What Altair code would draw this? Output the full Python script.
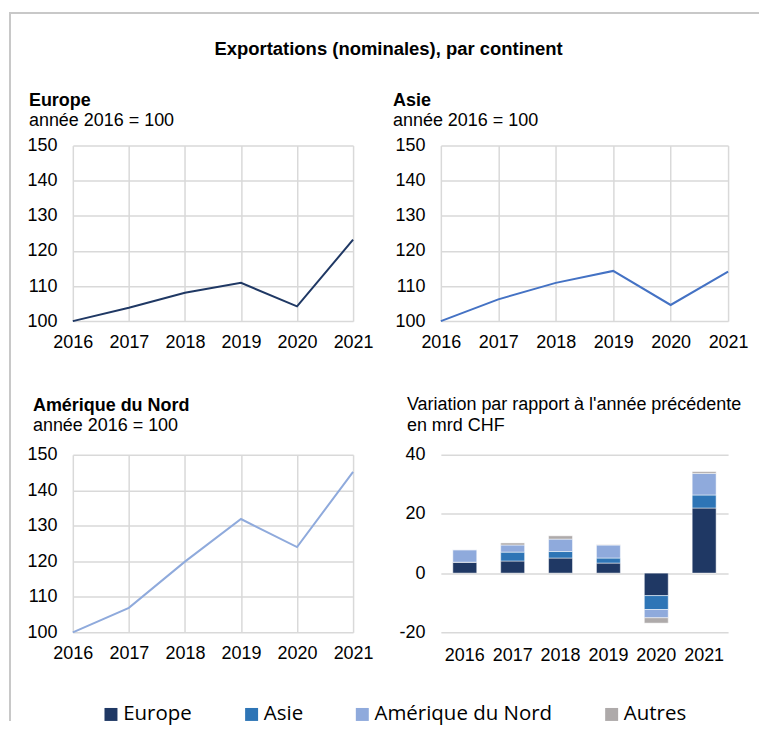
import altair as alt
import pandas as pd

# ---------------- data ----------------
years = [2016, 2017, 2018, 2019, 2020, 2021]
europe_idx = [100, 103.8, 108.1, 110.9, 104.2, 123.2]
asie_idx = [100, 106.2, 110.9, 114.3, 104.6, 114.1]
amn_idx = [100, 106.9, 119.9, 131.9, 124.0, 145.2]

continents = ["Europe", "Asie", "Amérique du Nord", "Autres"]
var_europe = [3.7, 4.1, 5.1, 3.4, -7.6, 22.0]
var_asie = [0.0, 3.0, 2.2, 1.7, -4.7, 4.4]
var_amn = [4.2, 2.4, 4.2, 4.4, -2.8, 7.3]
var_autres = [0.0, 0.7, 1.1, 0.1, -1.8, 0.6]

idx_ticks = [100, 110, 120, 130, 140, 150]
var_ticks = [-20, 0, 20, 40]

# ---------------- style ----------------
bar_colors = ["#1f3864", "#2e75b6", "#8faadc", "#aeaaaa"]
FONT = "Liberation Sans"
GRID = "#d9d9d9"
TXT = "#000000"
W1, W2 = 281, 288
H1, H2 = 176, 178


def line_panel(name, values, color, width, height, dx, dy, border=False):
    df = pd.DataFrame({"year": years, "value": values})
    line = alt.Chart(df).mark_line(color=color, strokeWidth=2).encode(
        x=alt.X("year:Q",
                scale=alt.Scale(domain=[2016, 2021], nice=False, zero=False),
                axis=alt.Axis(values=years, format="d", title=None, grid=True,
                              labelFlush=False, labelOverlap=False, labelPadding=12)),
        y=alt.Y("value:Q",
                scale=alt.Scale(domain=[100, 150], nice=False, zero=False),
                axis=alt.Axis(values=idx_ticks, title=None, grid=True, labelPadding=16)),
    )
    layers = [line]
    if border:
        frame = alt.Data(values=[{}])
        top = alt.Chart(frame).mark_rule(color="#c8c8c8", strokeWidth=2).encode(
            x=alt.value(-64), x2=alt.value(688), y=alt.value(-133))
        left = alt.Chart(frame).mark_rule(color="#c8c8c8", strokeWidth=2).encode(
            x=alt.value(-63), y=alt.value(-133), y2=alt.value(577))
        layers = [top, left, line]
    return alt.layer(*layers).properties(
        width=width, height=height,
        title=alt.TitleParams(name, subtitle="année 2016 = 100", anchor="start",
                              frame="group", dx=dx, dy=dy,
                              font=FONT, fontSize=18, fontWeight="bold", color=TXT,
                              subtitleFont=FONT, subtitleFontSize=18, subtitleColor=TXT,
                              subtitlePadding=2, offset=0),
    )


europe = line_panel("Europe", europe_idx, "#1f3864", W1, H1, -44, 118, border=True)
asie = line_panel("Asie", asie_idx, "#4472c4", W2, H1, -48, -7)
amn = line_panel("Amérique du Nord", amn_idx, "#8faadc", W1, H2, -40, -11)

rows = []
for i, y in enumerate(years):
    for k, (c, vals) in enumerate(zip(continents, [var_europe, var_asie, var_amn, var_autres])):
        rows.append({"year": y, "continent": c, "value": vals[i], "ord": k})
var_df = pd.DataFrame(rows)

bars = alt.Chart(var_df).mark_bar(stroke="white", strokeWidth=0.5).encode(
    x=alt.X("year:O",
            scale=alt.Scale(paddingInner=0.5, paddingOuter=0.25),
            axis=alt.Axis(title=None, labelAngle=0, grid=False, labelPadding=14)),
    y=alt.Y("value:Q", stack="zero",
            scale=alt.Scale(domain=[-20, 40], nice=False),
            axis=alt.Axis(values=var_ticks, title=None, grid=True, labelPadding=16,
                          labelExpr="'' + datum.value")),
    color=alt.Color("continent:N",
                    scale=alt.Scale(domain=continents, range=bar_colors),
                    sort=continents,
                    legend=alt.Legend(title=None, orient="none", legendX=-341, legendY=250,
                                      direction="horizontal", symbolType="square",
                                      symbolSize=169, symbolStrokeWidth=0,
                                      labelFont="Open Sans", labelFontSize=20.5, labelColor=TXT,
                                      labelOffset=2, columnPadding=49, padding=0,
                                      labelLimit=400)),
    order=alt.Order("ord:Q", sort="ascending"),
).properties(
    width=W2, height=H2,
    title=alt.TitleParams(["Variation par rapport à l'année précédente", "en mrd CHF"],
                          anchor="start", frame="group", dx=-34, dy=-11,
                          font=FONT, fontSize=18, fontWeight="normal", color=TXT,
                          lineHeight=21, offset=0),
)

chart = alt.concat(
    europe, asie, amn, bars,
    columns=2, spacing={"row": 134, "column": 88}, bounds="flush", align="each",
).resolve_scale(color="independent").resolve_legend(color="independent").properties(
    title=alt.TitleParams("Exportations (nominales), par continent", anchor="start",
                          frame="group", dx=142, dy=47, offset=0,
                          font=FONT, fontSize=18.5, fontWeight="bold", color=TXT),
    padding={"left": 0, "top": 3, "right": 0, "bottom": 0},
).configure_view(strokeWidth=0).configure_axis(
    domain=False, ticks=False, gridColor=GRID, gridWidth=1.5,
    labelFont=FONT, labelFontSize=18, labelColor=TXT,
)

chart.save("out.html", embed_options={"renderer": "svg", "actions": False})
